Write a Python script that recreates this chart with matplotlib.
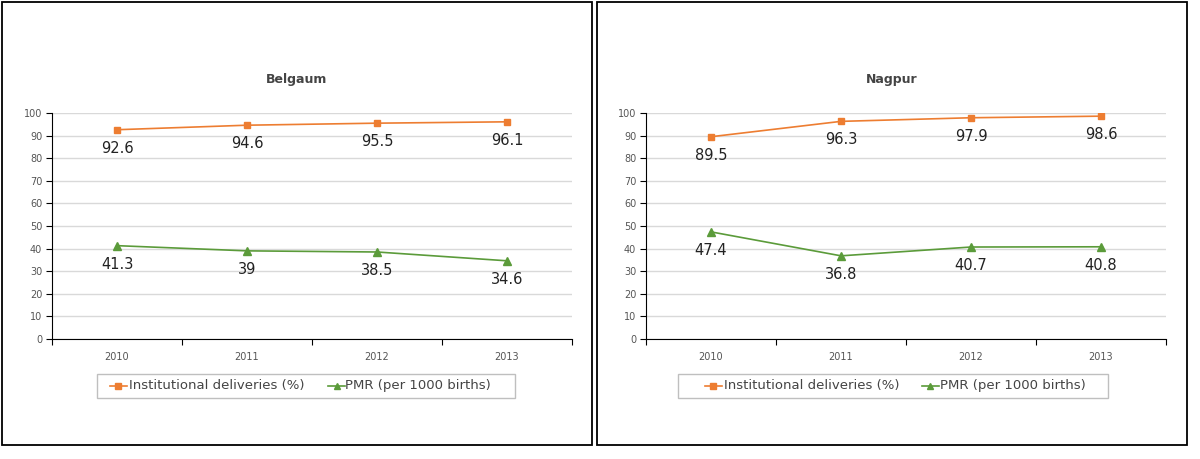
import matplotlib
matplotlib.use('Agg')
import matplotlib.pyplot as plt
from matplotlib.patches import Rectangle

years = ['2010', '2011', '2012', '2013']
belgaum_inst = [92.6, 94.6, 95.5, 96.1]
belgaum_pmr = [41.3, 39, 38.5, 34.6]
nagpur_inst = [89.5, 96.3, 97.9, 98.6]
nagpur_pmr = [47.4, 36.8, 40.7, 40.8]

ORANGE = '#ED7D31'
GREEN = '#5B9B3A'
W, H = 1200, 459

plt.rcParams['font.family'] = ['DejaVu Sans']

fig = plt.figure(figsize=(12, 4.59), dpi=100)

def px_rect(x0, y0, x1, y1):
    return [x0 / W, 1 - y1 / H, (x1 - x0) / W, (y1 - y0) / H]

# cadres des deux graphiques
for x0, x1 in [(2, 592), (597, 1187)]:
    r = px_rect(x0, 2, x1, 445)
    fig.patches.append(Rectangle((r[0], r[1]), r[2], r[3], transform=fig.transFigure,
                                 fill=False, edgecolor='black', linewidth=1.3))

def draw_panel(x0, x1, box_x0, box_x1, title, inst, pmr, leg):
    ax = fig.add_axes(px_rect(x0, 113, x1, 339))
    xs = list(range(len(years)))
    ax.plot(xs, inst, color=ORANGE, marker='s', markersize=5, linewidth=1.2)
    ax.plot(xs, pmr, color=GREEN, marker='^', markersize=6, linewidth=1.2)
    for x, v in zip(xs, inst):
        ax.annotate(f'{v:g}', (x, v), xytext=(0, -8), textcoords='offset points',
                    ha='center', va='top', fontsize=10.5, color='#222222')
    for x, v in zip(xs, pmr):
        ax.annotate(f'{v:g}', (x, v), xytext=(0, -8), textcoords='offset points',
                    ha='center', va='top', fontsize=10.5, color='#222222')
    ax.set_xlim(-0.5, 3.5)
    ax.set_ylim(0, 100)
    ax.set_yticks(range(0, 101, 10))
    ax.set_xticks([-0.5, 0.5, 1.5, 2.5, 3.5])
    ax.set_xticklabels([])
    ax.set_xticks(xs, minor=True)
    ax.set_xticklabels(years, minor=True)
    ax.tick_params(axis='x', which='minor', length=0, pad=9, labelsize=7, labelcolor='#555555')
    ax.tick_params(axis='x', which='major', length=4, direction='out', color='black')
    ax.tick_params(axis='y', length=4, direction='out', labelsize=7, labelcolor='#555555', pad=3)
    ax.grid(axis='y', color='#D9D9D9', linewidth=1)
    ax.set_axisbelow(True)
    for s in ['top', 'right']:
        ax.spines[s].set_visible(False)
    ax.spines['left'].set_color('black')
    ax.spines['bottom'].set_color('black')
    fig.text((box_x0 + box_x1) / 2 / W, 1 - 79 / H, title, ha='center', va='center',
             fontsize=9, fontweight='bold', color='#444444')
    # légende
    lx0, lx1, o_line, o_text, g_line, g_text = leg
    lr = px_rect(lx0, 374, lx1, 398)
    fig.patches.append(Rectangle((lr[0], lr[1]), lr[2], lr[3], transform=fig.transFigure,
                                 fill=False, edgecolor='#BFBFBF', linewidth=1))
    lax = fig.add_axes([lr[0], lr[1], lr[2], lr[3]])
    lax.set_xlim(lx0, lx1)
    lax.set_ylim(0, 1)
    lax.axis('off')
    lax.plot([o_line, o_line + 17], [0.5, 0.5], color=ORANGE, linewidth=1.2)
    lax.plot([o_line + 8.5], [0.5], color=ORANGE, marker='s', markersize=4)
    lax.text(o_text, 0.5, 'Institutional deliveries (%)', va='center', fontsize=9.5, color='#444444')
    lax.plot([g_line, g_line + 17], [0.5, 0.5], color=GREEN, linewidth=1.2)
    lax.plot([g_line + 8.5], [0.5], color=GREEN, marker='^', markersize=4.5)
    lax.text(g_text, 0.5, 'PMR (per 1000 births)', va='center', fontsize=9.5, color='#444444')

draw_panel(52, 572, 2, 592, 'Belgaum', belgaum_inst, belgaum_pmr,
           (97, 515, 110, 129, 328, 345))
draw_panel(646, 1166, 597, 1187, 'Nagpur', nagpur_inst, nagpur_pmr,
           (678, 1108, 705, 724, 922, 940))

fig.savefig('out.png', dpi=100)
